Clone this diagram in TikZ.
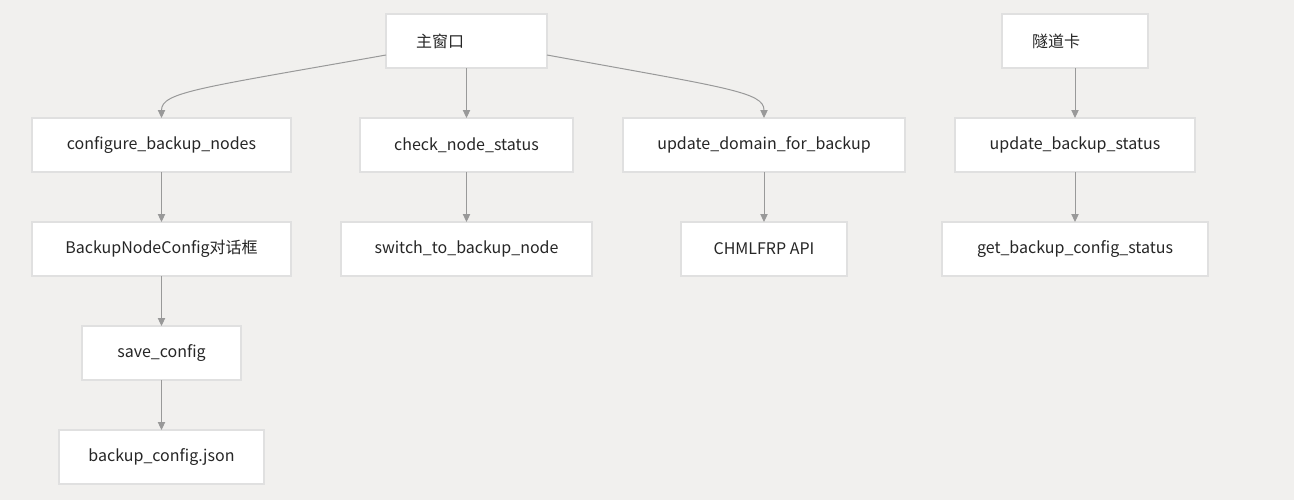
\documentclass[tikz,border=0pt]{standalone}
\usepackage{fontspec}
\setmainfont{Noto Sans CJK SC}
\usetikzlibrary{arrows.meta, positioning, calc}
\definecolor{canvasGray}{RGB}{241, 240, 238}
\definecolor{boxLine}{RGB}{224, 224, 224}
\definecolor{linkGray}{RGB}{153, 153, 153}
\tikzset{
    % Base Block Style
    block/.style={
        rectangle,
        minimum height=40.5pt,
        inner sep=0pt,
        outer sep=0pt,
        text centered,
        font=\fontsize{12}{14}\selectfont,
        text=black!85,
        fill=white,
        draw=boxLine,
        line width=0.9pt
    },
    % Left-set label (CJK boxes)
    leftBlock/.style={block, align=left, inner xsep=22.5pt},
    % Arrow Style
    link/.style={-{Triangle[length=6pt, width=5.5pt]}, line width=0.75pt, draw=linkGray, color=linkGray}
}

\begin{document}
\begin{tikzpicture}[
    x=0.75pt, y=-0.75pt,
    node distance=37.5pt
]

    % --- Canvas ---
    \fill [canvasGray] (0,0) rectangle (1294,500);
    \useasboundingbox (0,0) rectangle (1294,500);

    % --- TOP ROW ---
    \node (mainWin) [leftBlock, text width=75.75pt] at (466.5,41) {主窗口};
    \node (tunnelCard) [leftBlock, text width=64.5pt] at (1075,41) {隧道卡};

    % --- LEFT COLUMN (Config) ---
    \node (cfgNodes) [block, minimum width=194.25pt] at (161.5,145) {configure\_backup\_nodes};
    \node (cfgDialog) [block, minimum width=194.25pt, below=of cfgNodes] {BackupNodeConfig对话框};
    \node (saveCfg) [block, minimum width=119.25pt, below=of cfgDialog] {save\_config};
    \node (cfgJson) [block, minimum width=153.75pt, below=of saveCfg] {backup\_config.json};

    % --- MIDDLE COLUMNS ---
    \node (checkStatus) [block, minimum width=159.75pt, below=of mainWin] {check\_node\_status};
    \node (switchNode) [block, minimum width=188.25pt, below=of checkStatus] {switch\_to\_backup\_node};

    \node (updDomain) [block, minimum width=211.5pt] at (764,145) {update\_domain\_for\_backup};
    \node (chmlApi) [block, minimum width=124.5pt, below=of updDomain] {CHMLFRP API};

    % --- RIGHT COLUMN (Tunnel) ---
    \node (updStatus) [block, minimum width=180pt, below=of tunnelCard] {update\_backup\_status};
    \node (getStatus) [block, minimum width=199.5pt, below=of updStatus] {get\_backup\_config\_status};

    % --- Arrows ---
    \draw [link] ($(mainWin.west)+(0,14)$) .. controls (200,88) and (161.5,92) .. (cfgNodes.north);
    \draw [link] (mainWin) -- (checkStatus);
    \draw [link] ($(mainWin.east)+(0,14)$) .. controls (728,88) and (764,92) .. (updDomain.north);
    \draw [link] (cfgNodes) -- (cfgDialog);
    \draw [link] (cfgDialog) -- (saveCfg);
    \draw [link] (saveCfg) -- (cfgJson);
    \draw [link] (checkStatus) -- (switchNode);
    \draw [link] (updDomain) -- (chmlApi);
    \draw [link] (tunnelCard) -- (updStatus);
    \draw [link] (updStatus) -- (getStatus);

\end{tikzpicture}
\end{document}
